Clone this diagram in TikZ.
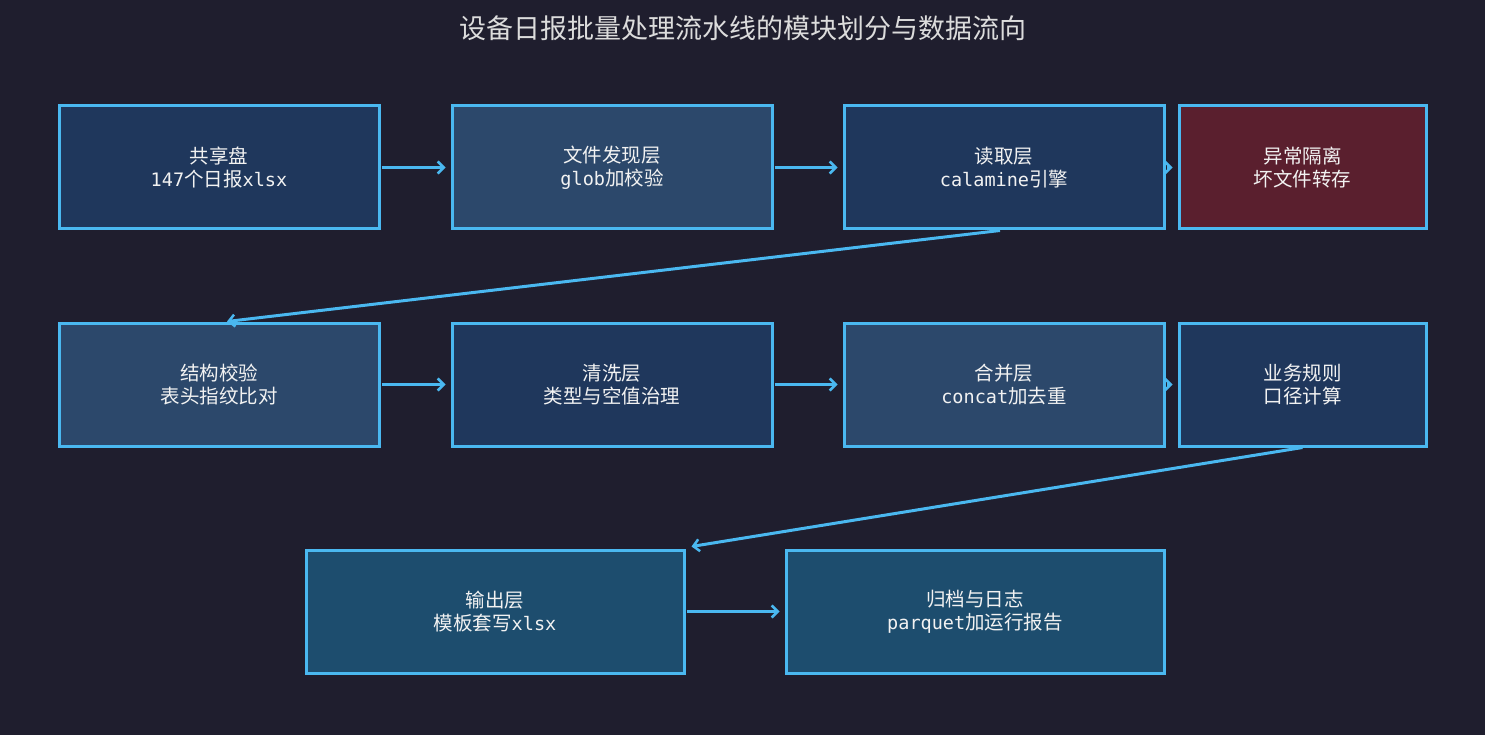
\documentclass[tikz,border=0pt]{standalone}
\usepackage{fontspec}
\setmainfont{Noto Sans CJK SC}
\newfontfamily\mono[Scale=0.95]{DejaVu Sans Mono}
\usetikzlibrary{arrows.meta,calc}
\definecolor{bg}{HTML}{1F1E2E}
\definecolor{edge}{HTML}{4AB8F0}
\definecolor{fillA}{HTML}{1F375C}
\definecolor{fillB}{HTML}{2C486B}
\definecolor{fillR}{HTML}{5A1F2E}
\definecolor{fillC}{HTML}{1D4D6E}
\definecolor{txt}{HTML}{F2F2F2}
\definecolor{ttl}{HTML}{DCDCDC}
\tikzset{
  box/.style={draw=edge, line width=3pt, minimum height=123pt, minimum width=320pt,
    text=txt, align=center, inner sep=0pt,
    font=\fontsize{19.5pt}{23pt}\selectfont},
  flow/.style={draw=edge, line width=3pt, -{Straight Barb[length=6pt,width=12pt,line width=2.5pt]},
    shorten >=5pt, shorten <=1pt},
}
\begin{document}
\begin{tikzpicture}[x=1pt,y=-1pt]
\fill[bg] (0,0) rectangle (1485,735);
\useasboundingbox (0,0) rectangle (1485,735);
\node[text=ttl, font=\fontsize{27pt}{30pt}\selectfont] (title) at (742.5,28) {设备日报批量处理流水线的模块划分与数据流向};

\node[box, fill=fillA] (b1) at (219,167.5) {共享盘\\{\mono 147}个日报{\mono xlsx}};
\node[box, fill=fillB] (b2) at (612,167.5) {文件发现层\\{\mono glob}加校验};
\node[box, fill=fillA] (b3) at (1004,167.5) {读取层\\{\mono calamine}引擎};
\node[box, fill=fillR, minimum width=247pt] (b4) at (1302.5,167.5) {异常隔离\\坏文件转存};

\node[box, fill=fillB] (b5) at (219,384.5) {结构校验\\表头指纹比对};
\node[box, fill=fillA] (b6) at (612,384.5) {清洗层\\类型与空值治理};
\node[box, fill=fillB] (b7) at (1004,384.5) {合并层\\{\mono concat}加去重};
\node[box, fill=fillA, minimum width=247pt] (b8) at (1302.5,384.5) {业务规则\\口径计算};

\node[box, fill=fillC, minimum width=378pt] (b9) at (495,611.5) {输出层\\模板套写{\mono xlsx}};
\node[box, fill=fillC, minimum width=378pt] (b10) at (975,611.5) {归档与日志\\{\mono parquet}加运行报告};

\draw[flow] (b1) -- (b2);
\draw[flow] (b2) -- (b3);
\draw[flow] (b3) -- (b4);
\draw[flow] (b5) -- (b6);
\draw[flow] (b6) -- (b7);
\draw[flow] (b7) -- (b8);
\draw[flow] (b9) -- (b10);
\draw[flow, shorten >=0pt, shorten <=0pt] ($(b3.south)+(-4,0)$) -- ($(b5.north)+(8,0)$);
\draw[flow, shorten >=0pt, shorten <=0pt] (b8.south) -- ($(b9.north east)+(6,-2)$);
\end{tikzpicture}
\end{document}
